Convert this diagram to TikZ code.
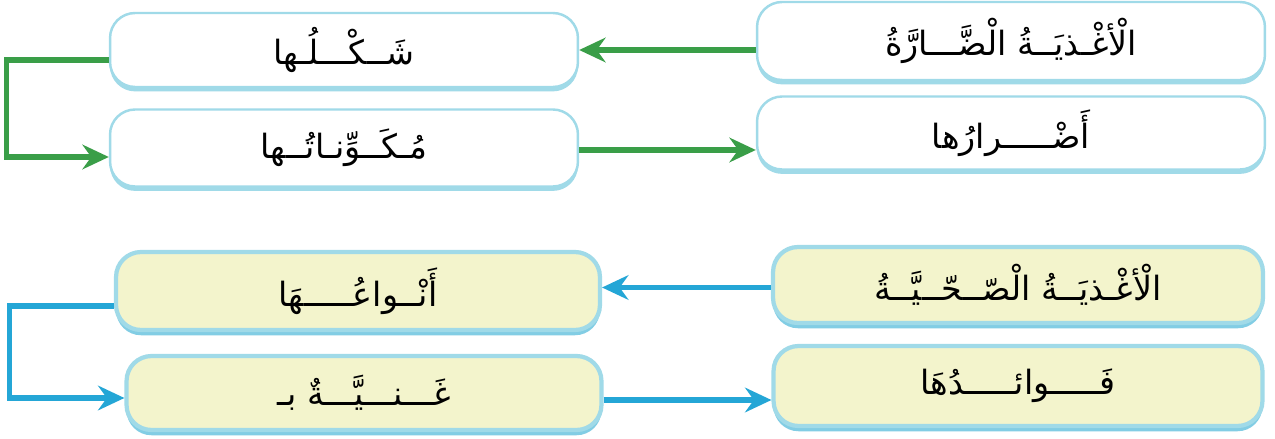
\documentclass[tikz,border=0pt]{standalone}
\usepackage{fontspec}
\newfontfamily\arabicfont[Script=Arabic]{DejaVu Sans}
\TeXXeTstate=1
\usetikzlibrary{arrows.meta,shadows}
\definecolor{garr}{RGB}{58,158,72}
\definecolor{barr}{RGB}{36,166,214}
\definecolor{glowc}{RGB}{160,218,232}
\definecolor{glowd}{RGB}{130,205,228}
\definecolor{paley}{RGB}{243,244,204}
\begin{document}
\begin{tikzpicture}[x=0.02cm,y=-0.02cm,
  box/.style={rounded corners=0.5cm, inner sep=0pt, font=\arabicfont\fontsize{19}{22}\selectfont},
  wbox/.style={box, fill=white, draw=glowc, line width=1.4pt,
    drop shadow={shadow xshift=0pt, shadow yshift=-2.5pt, fill=glowc, opacity=1}},
  ybox/.style={box, fill=paley, draw=glowc, line width=2.4pt,
    drop shadow={shadow xshift=0pt, shadow yshift=-3pt, fill=glowd, opacity=1}},
  garrow/.style={draw=garr, line width=2.9pt, -{Stealth[length=15pt,width=14pt,inset=5pt]}},
  barrow/.style={draw=barr, line width=2.9pt, -{Stealth[length=15pt,width=14pt,inset=5pt]}}
]
\useasboundingbox[fill=white] (0,0) rectangle (1275,439);

% top (green) group
\node[wbox, minimum width=10.16cm, minimum height=1.56cm] (A) at (1011,41)
  {\beginR الْأغْـذيَــةُ الْضَّـــارَّةُ\endR};
\node[wbox, minimum width=10.16cm, minimum height=1.46cm] (B) at (1011,133)
  {\beginR أَضْـــــرارُها\endR};
\node[wbox, minimum width=9.36cm, minimum height=1.48cm] (C) at (344,50)
  {\beginR شَــكْـــلُـها\endR};
\node[wbox, minimum width=9.36cm, minimum height=1.54cm] (D) at (344,148)
  {\beginR مُـكَــوِّنـاتُــها\endR};

% bottom (blue) group
\node[ybox, minimum width=9.8cm, minimum height=1.52cm] (G) at (1018,285)
  {\beginR الْأغْـذيَــةُ الْصّــحّــيَّــةُ\endR};
\node[ybox, minimum width=9.78cm, minimum height=1.6cm] (H) at (1018,386)
  {\beginR فَـــــوائـــــدُهَا\endR};
\node[ybox, minimum width=9.68cm, minimum height=1.56cm] (E) at (358,291)
  {\beginR أَنْــواعُـــــهَا\endR};
\node[ybox, minimum width=9.5cm, minimum height=1.48cm] (F) at (364,393)
  {\beginR غَـــنـــيَّـــةٌ بـ\endR};

% green connectors
\draw[garrow] (A.west |- C.east) -- (C.east);
\draw[garrow] ([yshift=-0.04cm]D.east) -- ([yshift=-0.04cm]D.east -| B.west);
\draw[garrow] ([yshift=-0.2cm]C.west) -- ++(-102,0) |- ([yshift=-0.18cm]D.west);

% blue connectors
\draw[barrow] ([yshift=-0.05cm]G.west) -- ([yshift=-0.05cm]G.west -| E.east);
\draw[barrow] ([yshift=-0.14cm]F.east) -- ([yshift=-0.14cm]F.east -| H.west);
\draw[barrow] ([yshift=-0.3cm]E.west) -- ++(-104,0) |- ([yshift=-0.1cm]F.west);
\end{tikzpicture}
\end{document}
